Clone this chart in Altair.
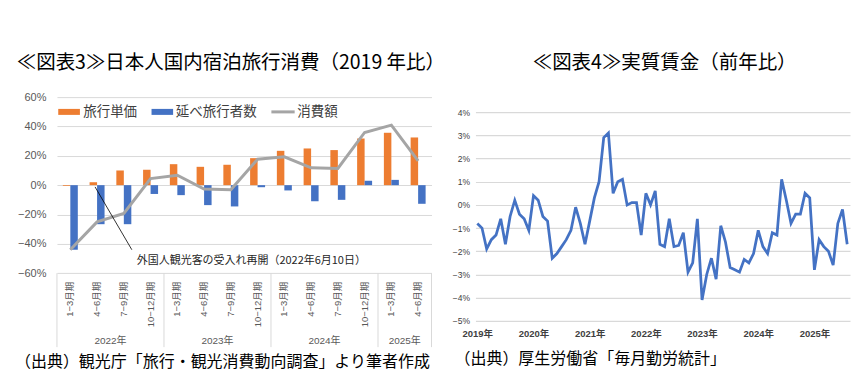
import altair as alt
import pandas as pd

JP = "Noto Sans CJK JP"
NUM = "Liberation Sans, Noto Sans CJK JP"

# ---------------- left chart data (2019年比, %) ----------------
quarter_names = ["1−3月期", "4−6月期", "7−9月期", "10−12月期"]
q_years = ["2022"] * 4 + ["2023"] * 4 + ["2024"] * 4 + ["2025"] * 2
q_labels = quarter_names * 3 + quarter_names[:2]
unit_price = [-0.5, 2.0, 10.0, 10.5, 14.3, 12.5, 13.9, 18.4, 23.4, 25.0, 23.9, 31.8, 35.7, 32.5]
travelers = [-44.0, -26.6, -26.6, -6.0, -6.8, -13.6, -14.5, -1.4, -3.6, -11.0, -10.0, 3.0, 3.6, -12.7]
spending = [-44.0, -25.0, -19.3, 4.5, 6.8, -2.7, -3.2, 17.7, 19.3, 11.8, 11.4, 35.9, 40.9, 16.6]
year_labels = ["2022年", "2023年", "2024年", "2025年"]

# ---------------- right chart data (実質賃金 前年比, %) ----------------
wage_years = ["2019", "2020", "2021", "2022", "2023", "2024", "2025"]
real_wage = [
    -0.8, -1.0, -1.9, -1.5, -1.3, -0.6, -1.7, -0.5, 0.2, -0.4, -0.6, -1.1,
    0.4, 0.2, -0.5, -0.7, -2.3, -2.1, -1.8, -1.5, -1.1, -0.1, -0.8, -1.7,
    -0.7, 0.3, 1.0, 2.9, 3.1, 0.5, 1.0, 1.1, 0.0, 0.1, 0.1, -1.3,
    0.5, 0.0, 0.6, -1.7, -1.8, -0.6, -1.8, -1.75, -1.2, -2.9, -2.5, -0.6,
    -4.1, -3.0, -2.3, -3.2, -0.9, -1.6, -2.7, -2.8, -2.9, -2.35, -2.5, -2.1,
    -1.1, -1.8, -2.1, -1.2, -1.3, 1.1, 0.2, -0.8, -0.4, -0.4, 0.5, 0.3,
    -2.8, -1.5, -1.8, -2.0, -2.6, -0.8, -0.2, -1.7,
]

keys = [f"{y}|{q}" for y, q in zip(q_years, q_labels)]
df_q = pd.DataFrame({"key": keys, "price": unit_price, "travelers": travelers, "spending": spending})
df_m = pd.DataFrame({"idx": list(range(len(real_wage))), "wage": real_wage})

W1, H1 = 375, 176.3
W2, H2 = 375, 224

xscale = alt.Scale(domain=keys, paddingInner=0, paddingOuter=0)
xaxis = alt.Axis(title=None, labelAngle=270, labelExpr="split(datum.value, '|')[1]",
                 ticks=False, domain=False, grid=False, labelPadding=8,
                 labelFontSize=9.5, labelColor="#595959", labelFont=NUM)


def xq(band=None):
    if band is None:
        return alt.X("key:N", sort=keys, scale=xscale, axis=xaxis)
    return alt.X("key:N", sort=keys, scale=xscale, axis=xaxis, bandPosition=band)


yscale = alt.Scale(domain=[-60, 60], nice=False, zero=False)
yaxis = alt.Axis(title=None, values=[-60, -40, -20, 0, 20, 40, 60],
                 labelExpr="format(datum.value, 'd') + '%'", ticks=False, tickSize=0,
                 domain=False, grid=True, gridColor="#D9D9D9", gridWidth=1,
                 labelPadding=11, labelFontSize=11, labelColor="#595959", labelFont=NUM)


def one(**kw):
    return alt.Data(values=[kw])


def txt(text, x, y, size, color="black", align="left", font=JP):
    return alt.Chart(one(t=text)).mark_text(
        align=align, baseline="middle", fontSize=size, font=font, color=color
    ).encode(x=alt.value(x), y=alt.value(y), text="t:N")


base = alt.Chart(df_q)
bars_price = base.mark_bar(size=7.5, xOffset=-3.75, color="#ED7D31").encode(
    x=xq(), y=alt.Y("price:Q", scale=yscale, axis=yaxis))
bars_trav = base.mark_bar(size=7.5, xOffset=3.75, color="#4472C4").encode(
    x=xq(), y=alt.Y("travelers:Q", scale=yscale, axis=yaxis))
line_sp = base.mark_line(color="#A5A5A5", strokeWidth=3).encode(
    x=xq(), y=alt.Y("spending:Q", scale=yscale, axis=yaxis))

# annotation
ann_rule = alt.Chart(one(key=keys[1], key2=keys[2], y1=-1.2, y2=-44)).mark_rule(
    color="black", strokeWidth=0.8, xOffset=-2, x2Offset=8).encode(
    x=xq(), x2="key2:N", y=alt.Y("y1:Q", scale=yscale, axis=yaxis), y2="y2:Q")
ann_text = alt.Chart(one(key=keys[2], y=-51.5, t="外国人観光客の受入れ再開（2022年6月10日）")).mark_text(
    align="left", baseline="middle", fontSize=11, font=JP, color="#262626", dx=13).encode(
    x=xq(), y=alt.Y("y:Q", scale=yscale, axis=yaxis), text="t:N")

# year labels of the category axis (centre of each year's group)
yl_df = pd.DataFrame({"key": [keys[1], keys[5], keys[9], keys[12]], "t": year_labels})
year_text = alt.Chart(yl_df).mark_text(
    baseline="middle", fontSize=10, font=NUM, color="#595959", dx=13.4).encode(
    x=xq(), y=alt.value(H1 + 68), text="t:N")

sep_df = pd.DataFrame({"key": [keys[0], keys[4], keys[8], keys[12]]})
sep_rules = alt.Chart(sep_df).mark_rule(color="#D9D9D9", strokeWidth=1).encode(
    x=xq(0), y=alt.value(H1), y2=alt.value(H1 + 74))
sep_end = alt.Chart(pd.DataFrame({"key": [keys[-1]]})).mark_rule(color="#D9D9D9", strokeWidth=1).encode(
    x=xq(1), y=alt.value(H1), y2=alt.value(H1 + 74))


# legend
def swatch(x1, x2, y1, y2, color):
    return alt.Chart(one(a=1)).mark_rect(color=color).encode(
        x=alt.value(x1), x2=alt.value(x2), y=alt.value(y1), y2=alt.value(y2))


leg = [
    swatch(1.3, 23, 11.8, 17.8, "#ED7D31"),
    txt("旅行単価", 26.3, 15.3, 13.5, color="#404040"),
    swatch(94.7, 116.3, 11.8, 17.8, "#4472C4"),
    txt("延べ旅行者数", 119, 15.3, 13.5, color="#404040"),
    alt.Chart(one(a=1)).mark_rule(color="#A5A5A5", strokeWidth=3).encode(
        x=alt.value(214.7), x2=alt.value(238), y=alt.value(14.8)),
    txt("消費額", 240.7, 15.3, 13.5, color="#404040"),
]

# invisible anchors fixing the outer bounds of the drawing
anchor = alt.Chart(one(a=1)).mark_rule(color="white", strokeWidth=1).encode(
    x=alt.value(-48.5), x2=alt.value(-48.5), y=alt.value(-88.2), y2=alt.value(-86))
anchor_bottom = alt.Chart(one(a=1)).mark_rule(color="white", strokeWidth=1).encode(
    x=alt.value(-48.5), x2=alt.value(-48.5), y=alt.value(276), y2=alt.value(279))

left = alt.layer(
    anchor, anchor_bottom, bars_price, bars_trav, line_sp, ann_rule, ann_text, year_text,
    sep_rules, sep_end, *leg,
    txt("≪図表3≫日本人国内宿泊旅行消費（2019 年比）", -40.3, -34.2, 19.5),
    txt("（出典）観光庁「旅行・観光消費動向調査」より筆者作成", -42, 264.8, 16),
).properties(width=W1, height=H1)

# ---------------- right chart ----------------
ticks_x = [12 * i for i in range(len(wage_years))]
wage_line = alt.Chart(df_m).mark_line(color="#4472C4", strokeWidth=2.75).encode(
    x=alt.X("idx:Q", scale=alt.Scale(domain=[-0.4, 79.6], nice=False, zero=False),
            axis=alt.Axis(title=None, values=ticks_x,
                          labelExpr="(2019 + datum.value / 12) + '年'",
                          grid=False, ticks=False, domain=False, labelFlush=False,
                          labelPadding=8, labelFontSize=9.5, labelColor="#404040",
                          labelFont=NUM, labelFontWeight="bold")),
    y=alt.Y("wage:Q", scale=alt.Scale(domain=[-5, 4.646], nice=False, zero=False),
            axis=alt.Axis(title=None, values=list(range(-5, 5)),
                          labelExpr="format(datum.value, 'd') + '%'",
                          grid=True, gridColor="#D9D9D9", gridWidth=1.2, ticks=False, tickSize=0,
                          domain=False, labelPadding=6, labelFontSize=8.5,
                          labelColor="#404040", labelFont=NUM)),
)

right = alt.layer(
    wage_line,
    txt("≪図表4≫実質賃金（前年比）", 57.3, -34.2, 19.5),
    txt("（出典）厚生労働省「毎月勤労統計」", -21, 262.3, 16),
).properties(width=W2, height=H2)

chart = alt.hconcat(left, right, spacing=44, bounds="flush").properties(
    padding=0
).configure_view(stroke=None)

chart.save("out.html", embed_options={"renderer": "svg", "actions": False})
